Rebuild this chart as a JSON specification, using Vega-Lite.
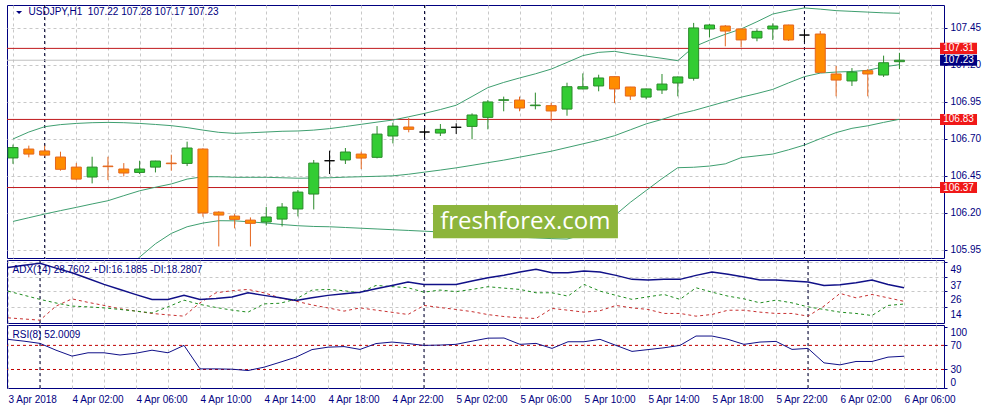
{
  "$schema": "https://vega.github.io/schema/vega-lite/v6.json",
  "background": "white",
  "padding": {"left": 6, "top": 4, "right": 0, "bottom": 0},
  "spacing": 2,
  "bounds": "flush",
  "config": {
    "view": {"stroke": "#000080", "strokeWidth": 1},
    "axis": {
      "labelFont": "Liberation Sans",
      "labelFontSize": 10,
      "labelColor": "#000080",
      "tickColor": "#000080",
      "tickSize": 3,
      "domain": false,
      "gridColor": "#c8c8c8",
      "gridDash": [3, 3],
      "gridWidth": 1
    }
  },
  "datasets": {
    "bars": [
      {"t": "2018-04-03T22:00:00Z", "open": 106.57, "high": 106.66, "low": 106.53, "close": 106.64, "upper": 106.698, "middle": 106.141, "lower": null, "adx": 44.5, "plusDI": 26.2, "minusDI": 5.5, "rsi": 80},
      {"t": "2018-04-03T23:00:00Z", "open": 106.63, "high": 106.653, "low": 106.574, "close": 106.596, "upper": 106.745, "middle": 106.166, "lower": null, "adx": 46.3, "plusDI": 23, "minusDI": 4.6, "rsi": 77},
      {"t": "2018-04-04T00:00:00Z", "open": 106.617, "high": 106.653, "low": 106.58, "close": 106.589, "upper": 106.781, "middle": 106.191, "lower": null, "adx": 47.8, "plusDI": 19.8, "minusDI": 3.7, "rsi": 73.3},
      {"t": "2018-04-04T01:00:00Z", "open": 106.576, "high": 106.612, "low": 106.484, "close": 106.493, "upper": 106.795, "middle": 106.214, "lower": null, "adx": 44, "plusDI": 17, "minusDI": 14.6, "rsi": 62},
      {"t": "2018-04-04T02:00:00Z", "open": 106.508, "high": 106.535, "low": 106.42, "close": 106.427, "upper": 106.803, "middle": 106.236, "lower": null, "adx": 40.4, "plusDI": 14.6, "minusDI": 20.2, "rsi": 52.2},
      {"t": "2018-04-04T03:00:00Z", "open": 106.441, "high": 106.578, "low": 106.398, "close": 106.508, "upper": 106.808, "middle": 106.259, "lower": null, "adx": 36, "plusDI": 14, "minusDI": 17.5, "rsi": 57.7},
      {"t": "2018-04-04T04:00:00Z", "open": 106.515, "high": 106.578, "low": 106.42, "close": 106.511, "upper": 106.81, "middle": 106.281, "lower": null, "adx": 31.4, "plusDI": 13.2, "minusDI": 15.1, "rsi": 57.7},
      {"t": "2018-04-04T05:00:00Z", "open": 106.495, "high": 106.535, "low": 106.445, "close": 106.468, "upper": 106.808, "middle": 106.315, "lower": 105.8, "adx": 27.5, "plusDI": 12, "minusDI": 12.5, "rsi": 54},
      {"t": "2018-04-04T06:00:00Z", "open": 106.472, "high": 106.551, "low": 106.461, "close": 106.495, "upper": 106.803, "middle": 106.348, "lower": 105.9, "adx": 23.5, "plusDI": 10.7, "minusDI": 10.7, "rsi": 57},
      {"t": "2018-04-04T07:00:00Z", "open": 106.508, "high": 106.551, "low": 106.472, "close": 106.549, "upper": 106.796, "middle": 106.372, "lower": 105.99, "adx": 19.8, "plusDI": 9.3, "minusDI": 8.9, "rsi": 62},
      {"t": "2018-04-04T08:00:00Z", "open": 106.535, "high": 106.592, "low": 106.484, "close": 106.531, "upper": 106.788, "middle": 106.394, "lower": 106.06, "adx": 19.8, "plusDI": 14, "minusDI": 7.8, "rsi": 57.7},
      {"t": "2018-04-04T09:00:00Z", "open": 106.533, "high": 106.68, "low": 106.515, "close": 106.637, "upper": 106.775, "middle": 106.427, "lower": 106.105, "adx": 22.9, "plusDI": 19.2, "minusDI": 6.8, "rsi": 70},
      {"t": "2018-04-04T10:00:00Z", "open": 106.63, "high": 106.635, "low": 106.173, "close": 106.198, "upper": 106.758, "middle": 106.443, "lower": 106.13, "adx": 19.8, "plusDI": 15.9, "minusDI": 17.1, "rsi": 31},
      {"t": "2018-04-04T11:00:00Z", "open": 106.204, "high": 106.21, "low": 105.972, "close": 106.184, "upper": 106.743, "middle": 106.443, "lower": 106.146, "adx": 20.5, "plusDI": 13.5, "minusDI": 24.9, "rsi": 31},
      {"t": "2018-04-04T12:00:00Z", "open": 106.177, "high": 106.191, "low": 106.094, "close": 106.155, "upper": 106.736, "middle": 106.439, "lower": 106.145, "adx": 21.6, "plusDI": 11.5, "minusDI": 26.5, "rsi": 30.5},
      {"t": "2018-04-04T13:00:00Z", "open": 106.15, "high": 106.168, "low": 105.972, "close": 106.128, "upper": 106.74, "middle": 106.439, "lower": 106.138, "adx": 24.9, "plusDI": 9.9, "minusDI": 27.5, "rsi": 28.3},
      {"t": "2018-04-04T14:00:00Z", "open": 106.137, "high": 106.238, "low": 106.114, "close": 106.171, "upper": 106.745, "middle": 106.439, "lower": 106.13, "adx": 22.9, "plusDI": 16.3, "minusDI": 24.9, "rsi": 33.8},
      {"t": "2018-04-04T15:00:00Z", "open": 106.157, "high": 106.265, "low": 106.107, "close": 106.238, "upper": 106.75, "middle": 106.436, "lower": 106.12, "adx": 21, "plusDI": 16.8, "minusDI": 21, "rsi": 42},
      {"t": "2018-04-04T16:00:00Z", "open": 106.225, "high": 106.353, "low": 106.175, "close": 106.339, "upper": 106.752, "middle": 106.433, "lower": 106.112, "adx": 19, "plusDI": 20, "minusDI": 18.4, "rsi": 50.5},
      {"t": "2018-04-04T17:00:00Z", "open": 106.326, "high": 106.556, "low": 106.222, "close": 106.535, "upper": 106.758, "middle": 106.434, "lower": 106.107, "adx": 21, "plusDI": 27, "minusDI": 15.5, "rsi": 63},
      {"t": "2018-04-04T18:00:00Z", "open": 106.551, "high": 106.619, "low": 106.461, "close": 106.551, "upper": 106.768, "middle": 106.436, "lower": 106.105, "adx": 22.9, "plusDI": 27.5, "minusDI": 13.2, "rsi": 67},
      {"t": "2018-04-04T19:00:00Z", "open": 106.556, "high": 106.637, "low": 106.529, "close": 106.61, "upper": 106.782, "middle": 106.44, "lower": 106.1, "adx": 24.2, "plusDI": 26.5, "minusDI": 10.7, "rsi": 68},
      {"t": "2018-04-04T20:00:00Z", "open": 106.596, "high": 106.612, "low": 106.495, "close": 106.569, "upper": 106.797, "middle": 106.443, "lower": 106.095, "adx": 25.4, "plusDI": 24.9, "minusDI": 13.2, "rsi": 63.3},
      {"t": "2018-04-04T21:00:00Z", "open": 106.574, "high": 106.785, "low": 106.567, "close": 106.731, "upper": 106.812, "middle": 106.446, "lower": 106.09, "adx": 28, "plusDI": 30.6, "minusDI": 11.5, "rsi": 73},
      {"t": "2018-04-04T22:00:00Z", "open": 106.718, "high": 106.808, "low": 106.668, "close": 106.785, "upper": 106.826, "middle": 106.449, "lower": 106.085, "adx": 30.5, "plusDI": 29.7, "minusDI": 9.8, "rsi": 75.5},
      {"t": "2018-04-04T23:00:00Z", "open": 106.779, "high": 106.84, "low": 106.743, "close": 106.763, "upper": 106.848, "middle": 106.46, "lower": 106.08, "adx": 33.2, "plusDI": 28.8, "minusDI": 8.1, "rsi": 73},
      {"t": "2018-04-05T00:00:00Z", "open": 106.745, "high": 106.772, "low": 106.709, "close": 106.745, "upper": 106.871, "middle": 106.474, "lower": 106.075, "adx": 31.4, "plusDI": 25.4, "minusDI": 15.1, "rsi": 70},
      {"t": "2018-04-05T01:00:00Z", "open": 106.738, "high": 106.799, "low": 106.718, "close": 106.763, "upper": 106.897, "middle": 106.488, "lower": 106.07, "adx": 31.4, "plusDI": 27, "minusDI": 13.5, "rsi": 70.5},
      {"t": "2018-04-05T02:00:00Z", "open": 106.777, "high": 106.804, "low": 106.732, "close": 106.777, "upper": 106.926, "middle": 106.503, "lower": 106.06, "adx": 31.4, "plusDI": 25.8, "minusDI": 12, "rsi": 71.7},
      {"t": "2018-04-05T03:00:00Z", "open": 106.783, "high": 106.871, "low": 106.696, "close": 106.86, "upper": 106.985, "middle": 106.52, "lower": 106.05, "adx": 34, "plusDI": 27.5, "minusDI": 10.3, "rsi": 77},
      {"t": "2018-04-05T04:00:00Z", "open": 106.844, "high": 106.961, "low": 106.763, "close": 106.948, "upper": 107.045, "middle": 106.538, "lower": 106.045, "adx": 36.5, "plusDI": 29.6, "minusDI": 8, "rsi": 82},
      {"t": "2018-04-05T05:00:00Z", "open": 106.959, "high": 106.984, "low": 106.885, "close": 106.963, "upper": 107.08, "middle": 106.555, "lower": 106.04, "adx": 38.5, "plusDI": 28.5, "minusDI": 6.5, "rsi": 82.2},
      {"t": "2018-04-05T06:00:00Z", "open": 106.961, "high": 106.984, "low": 106.885, "close": 106.907, "upper": 107.11, "middle": 106.575, "lower": 106.035, "adx": 41, "plusDI": 27.5, "minusDI": 5.5, "rsi": 71.7},
      {"t": "2018-04-05T07:00:00Z", "open": 106.923, "high": 107.011, "low": 106.898, "close": 106.927, "upper": 107.138, "middle": 106.595, "lower": 106.03, "adx": 43.1, "plusDI": 24.9, "minusDI": 5, "rsi": 73.3},
      {"t": "2018-04-05T08:00:00Z", "open": 106.923, "high": 106.943, "low": 106.822, "close": 106.887, "upper": 107.17, "middle": 106.615, "lower": 106.025, "adx": 40.4, "plusDI": 24.9, "minusDI": 12.8, "rsi": 65},
      {"t": "2018-04-05T09:00:00Z", "open": 106.9, "high": 107.078, "low": 106.855, "close": 107.051, "upper": 107.215, "middle": 106.64, "lower": 106.022, "adx": 40.4, "plusDI": 22.3, "minusDI": 11.4, "rsi": 76},
      {"t": "2018-04-05T10:00:00Z", "open": 107.036, "high": 107.141, "low": 107.034, "close": 107.051, "upper": 107.261, "middle": 106.665, "lower": 106.05, "adx": 41.8, "plusDI": 31.4, "minusDI": 9.9, "rsi": 76},
      {"t": "2018-04-05T11:00:00Z", "open": 107.056, "high": 107.132, "low": 107.02, "close": 107.11, "upper": 107.283, "middle": 106.69, "lower": 106.12, "adx": 41, "plusDI": 26.2, "minusDI": 11, "rsi": 80},
      {"t": "2018-04-05T12:00:00Z", "open": 107.119, "high": 107.12, "low": 106.94, "close": 107.036, "upper": 107.29, "middle": 106.72, "lower": 106.18, "adx": 38.4, "plusDI": 22.9, "minusDI": 15.1, "rsi": 70},
      {"t": "2018-04-05T13:00:00Z", "open": 107.049, "high": 107.05, "low": 106.961, "close": 106.988, "upper": 107.272, "middle": 106.76, "lower": 106.27, "adx": 35.3, "plusDI": 19.8, "minusDI": 13.2, "rsi": 60},
      {"t": "2018-04-05T14:00:00Z", "open": 106.981, "high": 107.038, "low": 106.966, "close": 107.036, "upper": 107.258, "middle": 106.8, "lower": 106.35, "adx": 34.8, "plusDI": 21.8, "minusDI": 12, "rsi": 63},
      {"t": "2018-04-05T15:00:00Z", "open": 107.029, "high": 107.137, "low": 107.002, "close": 107.069, "upper": 107.243, "middle": 106.83, "lower": 106.43, "adx": 35.3, "plusDI": 23.6, "minusDI": 8.9, "rsi": 66},
      {"t": "2018-04-05T16:00:00Z", "open": 107.076, "high": 107.12, "low": 106.986, "close": 107.117, "upper": 107.227, "middle": 106.865, "lower": 106.504, "adx": 35.3, "plusDI": 19.8, "minusDI": 8.9, "rsi": 70},
      {"t": "2018-04-05T17:00:00Z", "open": 107.108, "high": 107.482, "low": 107.092, "close": 107.448, "upper": 107.32, "middle": 106.89, "lower": 106.507, "adx": 38.4, "plusDI": 28.8, "minusDI": 6.8, "rsi": 85.5},
      {"t": "2018-04-05T18:00:00Z", "open": 107.441, "high": 107.475, "low": 107.385, "close": 107.468, "upper": 107.365, "middle": 106.92, "lower": 106.515, "adx": 41, "plusDI": 25.4, "minusDI": 8.1, "rsi": 85.5},
      {"t": "2018-04-05T19:00:00Z", "open": 107.461, "high": 107.468, "low": 107.324, "close": 107.427, "upper": 107.405, "middle": 106.95, "lower": 106.53, "adx": 39.2, "plusDI": 22.3, "minusDI": 11.4, "rsi": 80},
      {"t": "2018-04-05T20:00:00Z", "open": 107.441, "high": 107.443, "low": 107.317, "close": 107.367, "upper": 107.441, "middle": 106.98, "lower": 106.572, "adx": 37.1, "plusDI": 20.2, "minusDI": 11.4, "rsi": 71.7},
      {"t": "2018-04-05T21:00:00Z", "open": 107.38, "high": 107.439, "low": 107.358, "close": 107.425, "upper": 107.49, "middle": 107.005, "lower": 106.584, "adx": 34.8, "plusDI": 17.1, "minusDI": 9.9, "rsi": 75.5},
      {"t": "2018-04-05T22:00:00Z", "open": 107.441, "high": 107.479, "low": 107.367, "close": 107.461, "upper": 107.542, "middle": 107.033, "lower": 106.596, "adx": 34.8, "plusDI": 19.2, "minusDI": 8.9, "rsi": 76.6},
      {"t": "2018-04-05T23:00:00Z", "open": 107.468, "high": 107.47, "low": 107.36, "close": 107.367, "upper": 107.565, "middle": 107.077, "lower": 106.625, "adx": 34, "plusDI": 17.1, "minusDI": 8.9, "rsi": 63.3},
      {"t": "2018-04-06T00:00:00Z", "open": 107.4, "high": 107.434, "low": 107.353, "close": 107.4, "upper": 107.583, "middle": 107.119, "lower": 106.657, "adx": 33.2, "plusDI": 14, "minusDI": 6.8, "rsi": 65},
      {"t": "2018-04-06T01:00:00Z", "open": 107.407, "high": 107.427, "low": 107.146, "close": 107.148, "upper": 107.575, "middle": 107.143, "lower": 106.7, "adx": 30.6, "plusDI": 12, "minusDI": 14.6, "rsi": 41},
      {"t": "2018-04-06T02:00:00Z", "open": 107.137, "high": 107.191, "low": 106.986, "close": 107.096, "upper": 107.565, "middle": 107.15, "lower": 106.741, "adx": 31.1, "plusDI": 9.9, "minusDI": 24.4, "rsi": 37.7},
      {"t": "2018-04-06T03:00:00Z", "open": 107.09, "high": 107.177, "low": 107.056, "close": 107.15, "upper": 107.56, "middle": 107.154, "lower": 106.77, "adx": 32.7, "plusDI": 8.9, "minusDI": 21, "rsi": 43.3},
      {"t": "2018-04-06T04:00:00Z", "open": 107.159, "high": 107.171, "low": 106.986, "close": 107.137, "upper": 107.555, "middle": 107.162, "lower": 106.787, "adx": 34.8, "plusDI": 7.3, "minusDI": 23.6, "rsi": 43.3},
      {"t": "2018-04-06T05:00:00Z", "open": 107.13, "high": 107.261, "low": 107.117, "close": 107.213, "upper": 107.55, "middle": 107.185, "lower": 106.81, "adx": 31.4, "plusDI": 15.1, "minusDI": 21, "rsi": 50.5},
      {"t": "2018-04-06T06:00:00Z", "open": 107.22, "high": 107.28, "low": 107.17, "close": 107.23, "upper": 107.547, "middle": 107.2, "lower": 106.831, "adx": 28.7602, "plusDI": 16.1885, "minusDI": 18.2807, "rsi": 52.0009}
    ],
    "days": [
      {"t": "2018-04-04T00:00:00Z"},
      {"t": "2018-04-05T00:00:00Z"},
      {"t": "2018-04-06T00:00:00Z"}
    ],
    "levels": [{"price": 107.31}, {"price": 106.83}, {"price": 106.37}],
    "bid": [{"price": 107.23}],
    "rsiLevels": [{"level": 70}, {"level": 30}],
    "notes": [{"label": "USDJPY,H1\u00a0 107.22 107.28 107.17 107.23", "brand": "freshforex.com", "adxLabel": "ADX(14) 28.7602 +DI:16.1885 -DI:18.2807", "rsiLabel": "RSI(8) 52.0009"}]
  },
  "resolve": {"scale": {"x": "independent", "y": "independent"}},
  "vconcat": [
    {
      "width": 937,
      "height": 253,
      "layer": [
        {
          "data": {"name": "days"},
          "mark": {"type": "rule", "color": "#000033", "strokeDash": [3, 3], "strokeWidth": 1},
          "encoding": {
            "x": {
              "field": "t", "type": "temporal", "title": null,
              "scale": {"type": "utc", "nice": false, "domain": [1522792575000, 1523003400000]},
              "axis": {"labels": false, "ticks": false, "grid": true, "tickCount": 30, "values": [1522792800000, 1522800000000, 1522807200000, 1522814400000, 1522821600000, 1522828800000, 1522836000000, 1522843200000, 1522850400000, 1522857600000, 1522864800000, 1522872000000, 1522879200000, 1522886400000, 1522893600000, 1522900800000, 1522908000000, 1522915200000, 1522922400000, 1522929600000, 1522936800000, 1522944000000, 1522951200000, 1522958400000, 1522965600000, 1522972800000, 1522980000000, 1522987200000, 1522994400000, 1523001600000]}
            }
          }
        },
        {
          "data": {"name": "levels"},
          "mark": {"type": "rule", "color": "#c0181c", "strokeWidth": 1},
          "encoding": {
            "y": {
              "field": "price", "type": "quantitative", "title": null,
              "scale": {"domain": [105.894, 107.603], "nice": false, "zero": false},
              "axis": {"orient": "right", "values": [105.95, 106.2, 106.45, 106.7, 106.95, 107.2, 107.45], "tickCount": 7, "format": ".2f", "grid": true, "labelPadding": 3, "labelOverlap": false}
            }
          }
        },
        {
          "data": {"name": "bid"},
          "mark": {"type": "rule", "color": "#c0c0c0", "strokeWidth": 1},
          "encoding": {"y": {"field": "price", "type": "quantitative"}}
        },
        {
          "data": {"name": "bars"},
          "mark": {"type": "line", "color": "#3f9f70", "strokeWidth": 1, "clip": true},
          "encoding": {"x": {"field": "t", "type": "temporal"}, "y": {"field": "upper", "type": "quantitative"}}
        },
        {
          "data": {"name": "bars"},
          "mark": {"type": "line", "color": "#3f9f70", "strokeWidth": 1, "clip": true},
          "encoding": {"x": {"field": "t", "type": "temporal"}, "y": {"field": "middle", "type": "quantitative"}}
        },
        {
          "data": {"name": "bars"},
          "mark": {"type": "line", "color": "#3f9f70", "strokeWidth": 1, "clip": true},
          "encoding": {"x": {"field": "t", "type": "temporal"}, "y": {"field": "lower", "type": "quantitative"}}
        },
        {
          "data": {"name": "bars"},
          "mark": {"type": "rule", "strokeWidth": 1, "clip": true},
          "encoding": {
            "x": {"field": "t", "type": "temporal"},
            "y": {"field": "low", "type": "quantitative"},
            "y2": {"field": "high"},
            "color": {
              "condition": [
                {"test": "datum.close > datum.open", "value": "#2a8a2a"},
                {"test": "datum.close < datum.open", "value": "#e4661e"}
              ],
              "value": "#000000"
            }
          }
        },
        {
          "data": {"name": "bars"},
          "mark": {"type": "bar", "width": 10, "strokeWidth": 1, "clip": true},
          "encoding": {
            "x": {"field": "t", "type": "temporal"},
            "y": {"field": "open", "type": "quantitative"},
            "y2": {"field": "close"},
            "fill": {
              "condition": [
                {"test": "datum.close > datum.open", "value": "#33cc33"},
                {"test": "datum.close < datum.open", "value": "#ff8c00"}
              ],
              "value": "#000000"
            },
            "stroke": {
              "condition": [
                {"test": "datum.close > datum.open", "value": "#2a8a2a"},
                {"test": "datum.close < datum.open", "value": "#e4661e"}
              ],
              "value": "#000000"
            }
          }
        },
        {
          "data": {"name": "notes"},
          "mark": {"type": "rect", "color": "#8db53c"},
          "encoding": {
            "x": {"datum": 1522888320000, "type": "temporal"},
            "x2": {"datum": 1522930380000},
            "y": {"datum": 106.252, "type": "quantitative"},
            "y2": {"datum": 106.027}
          }
        },
        {
          "data": {"name": "notes"},
          "mark": {"type": "text", "color": "white", "font": "Open Sans", "fontSize": 24, "align": "center", "baseline": "middle"},
          "encoding": {
            "x": {"datum": 1522909320000, "type": "temporal"},
            "y": {"datum": 106.137, "type": "quantitative"},
            "text": {"field": "brand", "type": "nominal"}
          }
        },
        {
          "data": {"name": "levels"},
          "mark": {"type": "point", "shape": "M-1,-0.3L1,-0.3L1,0.3L-1,0.3Z", "filled": true, "size": 1369, "color": "#f01818", "opacity": 1},
          "encoding": {
            "x": {"datum": 1523007840000, "type": "temporal"},
            "y": {"field": "price", "type": "quantitative"}
          }
        },
        {
          "data": {"name": "bid"},
          "mark": {"type": "point", "shape": "M-1,-0.3L1,-0.3L1,0.3L-1,0.3Z", "filled": true, "size": 1369, "color": "#000080", "opacity": 1},
          "encoding": {
            "x": {"datum": 1523007840000, "type": "temporal"},
            "y": {"field": "price", "type": "quantitative"}
          }
        },
        {
          "data": {"name": "levels"},
          "mark": {"type": "text", "color": "white", "font": "Liberation Sans", "fontSize": 10, "align": "center", "baseline": "middle"},
          "encoding": {
            "x": {"datum": 1523007840000, "type": "temporal"},
            "y": {"field": "price", "type": "quantitative"},
            "text": {"field": "price", "type": "quantitative", "format": ".2f"}
          }
        },
        {
          "data": {"name": "bid"},
          "mark": {"type": "text", "color": "white", "font": "Liberation Sans", "fontSize": 10, "align": "center", "baseline": "middle"},
          "encoding": {
            "x": {"datum": 1523007840000, "type": "temporal"},
            "y": {"field": "price", "type": "quantitative"},
            "text": {"field": "price", "type": "quantitative", "format": ".2f"}
          }
        },
        {
          "data": {"name": "notes"},
          "mark": {"type": "point", "shape": "M-1,-0.5L1,-0.5L0,0.5Z", "filled": true, "size": 36, "color": "#000080", "opacity": 1},
          "encoding": {
            "x": {"datum": 1522794180000, "type": "temporal"},
            "y": {"datum": 107.552, "type": "quantitative"}
          }
        },
        {
          "data": {"name": "notes"},
          "mark": {"type": "text", "color": "#000080", "font": "Liberation Sans", "fontSize": 10, "align": "left", "baseline": "middle"},
          "encoding": {
            "x": {"datum": 1522796340000, "type": "temporal"},
            "y": {"datum": 107.554, "type": "quantitative"},
            "text": {"field": "label", "type": "nominal"}
          }
        }
      ]
    },
    {
      "width": 937,
      "height": 63,
      "layer": [
        {
          "data": {"name": "days"},
          "mark": {"type": "rule", "color": "#000033", "strokeDash": [3, 3], "strokeWidth": 1},
          "encoding": {
            "x": {
              "field": "t", "type": "temporal", "title": null,
              "scale": {"type": "utc", "nice": false, "domain": [1522792575000, 1523003400000]},
              "axis": {"labels": false, "ticks": false, "grid": true, "tickCount": 30, "values": [1522792800000, 1522800000000, 1522807200000, 1522814400000, 1522821600000, 1522828800000, 1522836000000, 1522843200000, 1522850400000, 1522857600000, 1522864800000, 1522872000000, 1522879200000, 1522886400000, 1522893600000, 1522900800000, 1522908000000, 1522915200000, 1522922400000, 1522929600000, 1522936800000, 1522944000000, 1522951200000, 1522958400000, 1522965600000, 1522972800000, 1522980000000, 1522987200000, 1522994400000, 1523001600000]}
            }
          }
        },
        {
          "data": {"name": "bars"},
          "mark": {"type": "line", "color": "#c83030", "strokeDash": [3, 3], "strokeWidth": 1, "clip": true},
          "encoding": {
            "x": {"field": "t", "type": "temporal"},
            "y": {
              "field": "minusDI", "type": "quantitative", "title": null,
              "scale": {"domain": [1.5, 50.3], "nice": false, "zero": false},
              "axis": {"orient": "right", "values": [14, 26, 37, 49], "tickCount": 4, "grid": true, "labelPadding": 3, "labelBaseline": "top", "labelOffset": 3, "labelOverlap": false, "labelFlush": false}
            }
          }
        },
        {
          "data": {"name": "bars"},
          "mark": {"type": "line", "color": "#1e8c1e", "strokeDash": [3, 3], "strokeWidth": 1, "clip": true},
          "encoding": {"x": {"field": "t", "type": "temporal"}, "y": {"field": "plusDI", "type": "quantitative"}}
        },
        {
          "data": {"name": "bars"},
          "mark": {"type": "line", "color": "#101088", "strokeWidth": 1.5, "clip": true},
          "encoding": {"x": {"field": "t", "type": "temporal"}, "y": {"field": "adx", "type": "quantitative"}}
        },
        {
          "data": {"name": "notes"},
          "mark": {"type": "text", "color": "#000080", "font": "Liberation Sans", "fontSize": 10, "align": "left", "baseline": "middle"},
          "encoding": {
            "x": {"datum": 1522793820000, "type": "temporal"},
            "y": {"datum": 42.5, "type": "quantitative"},
            "text": {"field": "adxLabel", "type": "nominal"}
          }
        }
      ]
    },
    {
      "width": 937,
      "height": 63,
      "layer": [
        {
          "data": {"name": "days"},
          "mark": {"type": "rule", "color": "#000033", "strokeDash": [3, 3], "strokeWidth": 1},
          "encoding": {
            "x": {
              "field": "t", "type": "temporal", "title": null,
              "scale": {"type": "utc", "nice": false, "domain": [1522792575000, 1523003400000]},
              "axis": {
                "grid": true, "ticks": false, "tickCount": 30,
                "values": [1522792800000, 1522800000000, 1522807200000, 1522814400000, 1522821600000, 1522828800000, 1522836000000, 1522843200000, 1522850400000, 1522857600000, 1522864800000, 1522872000000, 1522879200000, 1522886400000, 1522893600000, 1522900800000, 1522908000000, 1522915200000, 1522922400000, 1522929600000, 1522936800000, 1522944000000, 1522951200000, 1522958400000, 1522965600000, 1522972800000, 1522980000000, 1522987200000, 1522994400000, 1523001600000],
                "labelAlign": "left", "labelPadding": 6, "labelFlush": false, "labelOverlap": false,
                "labelExpr": "utchours(datum.value) % 4 != 2 ? '' : (utcdate(datum.value) == 3 ? '3 Apr 2018' : utcFormat(datum.value, '%-d %b %H:%M'))"
              }
            }
          }
        },
        {
          "data": {"name": "rsiLevels"},
          "mark": {"type": "rule", "color": "#c00000", "strokeDash": [3, 3], "strokeWidth": 1},
          "encoding": {
            "y": {
              "field": "level", "type": "quantitative", "title": null,
              "scale": {"domain": [-0.7, 103.8], "nice": false, "zero": false},
              "axis": {"orient": "right", "values": [0, 30, 70, 100], "tickCount": 4, "grid": false, "labelPadding": 3, "labelOverlap": false, "labelFlush": 6}
            }
          }
        },
        {
          "data": {"name": "bars"},
          "mark": {"type": "line", "color": "#101088", "strokeWidth": 1, "clip": true},
          "encoding": {"x": {"field": "t", "type": "temporal"}, "y": {"field": "rsi", "type": "quantitative"}}
        },
        {
          "data": {"name": "notes"},
          "mark": {"type": "text", "color": "#000080", "font": "Liberation Sans", "fontSize": 10, "align": "left", "baseline": "middle"},
          "encoding": {
            "x": {"datum": 1522793820000, "type": "temporal"},
            "y": {"datum": 87.2, "type": "quantitative"},
            "text": {"field": "rsiLabel", "type": "nominal"}
          }
        }
      ]
    }
  ]
}
